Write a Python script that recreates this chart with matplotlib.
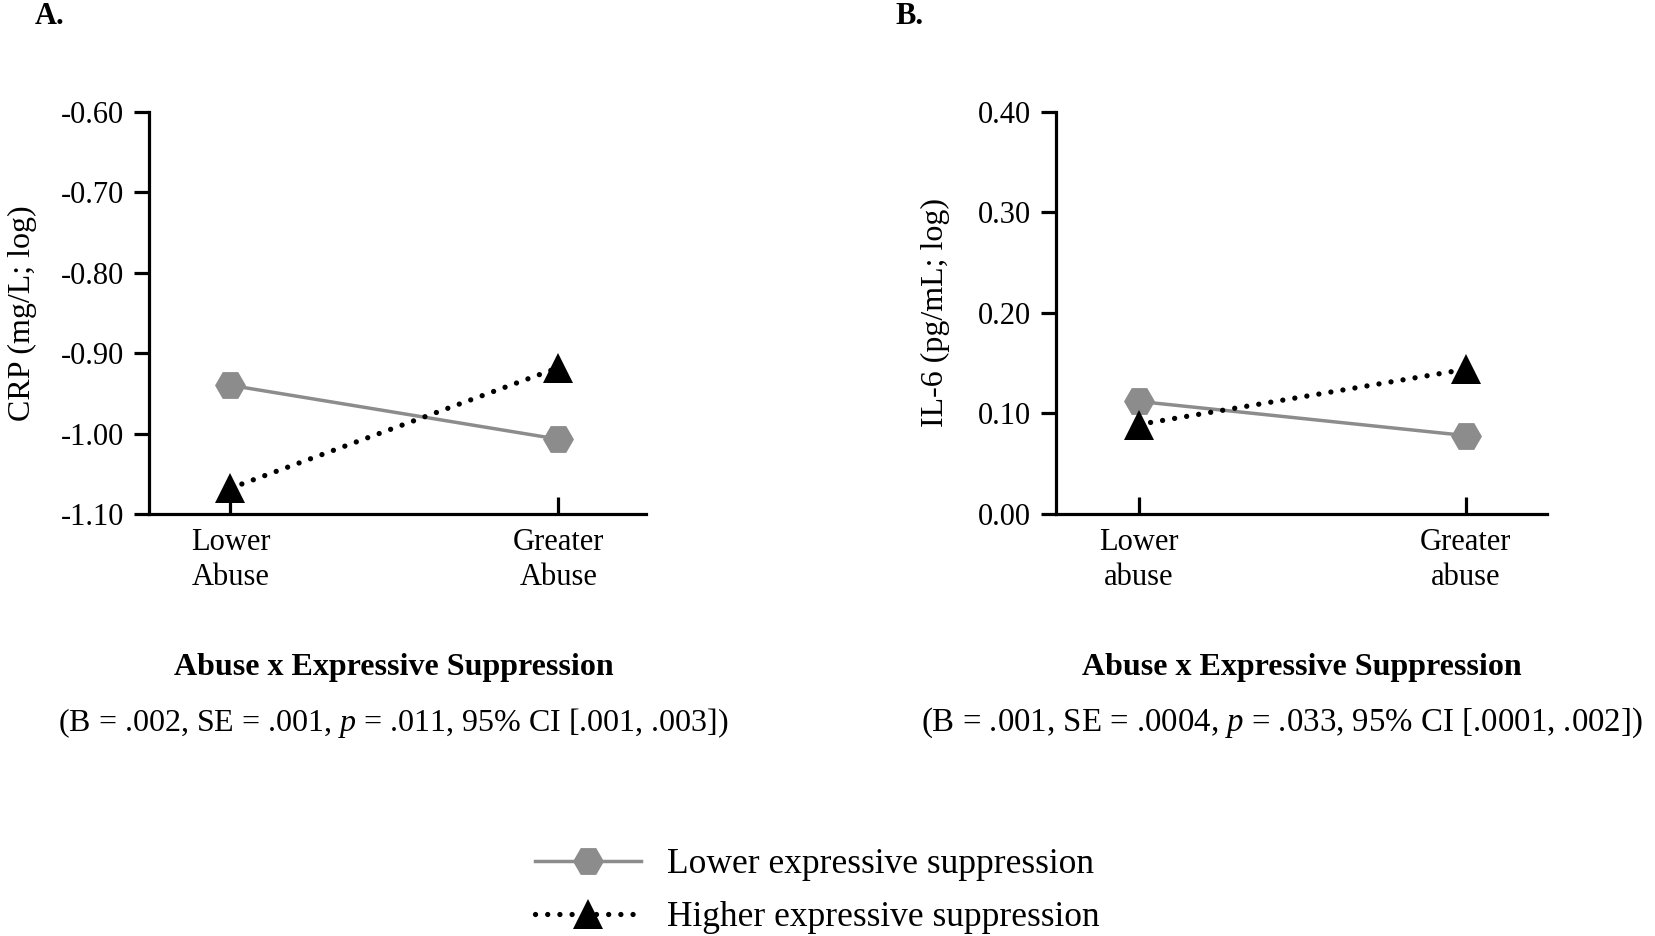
import matplotlib
matplotlib.use('Agg')
from matplotlib import pyplot as plt

plt.rcParams['font.family'] = ['Liberation Serif', 'DejaVu Serif']
plt.rcParams['mathtext.fontset'] = 'custom'
plt.rcParams['mathtext.rm'] = 'Liberation Serif'
plt.rcParams['mathtext.it'] = 'Liberation Serif:italic'

# data
categories_a = ['Lower\nAbuse', 'Greater\nAbuse']
categories_b = ['Lower\nabuse', 'Greater\nabuse']
crp_lower_es = [-0.940, -1.007]
crp_higher_es = [-1.068, -0.918]
il6_lower_es = [0.112, 0.078]
il6_higher_es = [0.089, 0.144]
crp_ticks = [-1.10, -1.00, -0.90, -0.80, -0.70, -0.60]
il6_ticks = [0.00, 0.10, 0.20, 0.30, 0.40]
series_labels = ['Lower expressive suppression', 'Higher expressive suppression']
stats_a = '(B = .002, SE = .001, $p$ = .011, 95% CI [.001, .003])'
stats_b = '(B = .001, SE = .0004, $p$ = .033, 95% CI [.0001, .002])'

GRAY = '#8c8c8c'
TICK_FS = 22
FS = 23


def _do_panel(ax, cats, low, high, yticks, ylabel, label_x, xlim):
    x = list(range(len(cats)))
    l1, = ax.plot(x, low, color=GRAY, linewidth=2.5, marker='H', markersize=22.3,
                  markeredgewidth=0, clip_on=False, zorder=3, label=series_labels[0])
    l2, = ax.plot(x, high, color='black', linewidth=3.8, linestyle=(0, (0.01, 2.3)),
                  dash_capstyle='round', marker='^', markersize=22.3, markeredgewidth=0,
                  clip_on=False, zorder=4, label=series_labels[1])
    ax.set_xlim(xlim)
    ax.set_ylim(yticks[0], yticks[-1])
    ax.set_yticks(yticks)
    ax.set_yticklabels([f'{t:.2f}' for t in yticks])
    ax.set_xticks(x)
    ax.set_xticklabels(cats, linespacing=1.3)
    for s in ['top', 'right']:
        ax.spines[s].set_visible(False)
    for s in ['left', 'bottom']:
        ax.spines[s].set_linewidth(2.3)
    ax.tick_params(axis='y', direction='out', length=11, width=2.3, pad=7, labelsize=TICK_FS)
    ax.tick_params(axis='x', direction='in', length=12, width=2.3, pad=10, labelsize=TICK_FS)
    ax.set_ylabel(ylabel, fontsize=FS)
    ax.yaxis.set_label_coords(label_x, 0.5)
    return l1, l2


fig = plt.figure(figsize=(16.56, 9.36), dpi=100)
ax_a = fig.add_axes([0.0900, 0.4509, 0.3001, 0.4295])
ax_b = fig.add_axes([0.6377, 0.4509, 0.2965, 0.4295])

handles = _do_panel(ax_a, categories_a, crp_lower_es, crp_higher_es, crp_ticks,
                    'CRP (mg/L; log)', -0.225, (-0.248, 1.267))
_do_panel(ax_b, categories_b, il6_lower_es, il6_higher_es, il6_ticks,
          'IL-6 (pg/mL; log)', -0.216, (-0.252, 1.248))

fig.text(35 / 1656, 1 - 17 / 936, 'A.', fontsize=22, fontweight='bold', va='center')
fig.text(895 / 1656, 1 - 17 / 936, 'B.', fontsize=22, fontweight='bold', va='center')

for tx, sx, sfs, stats in [(394, 393, FS, stats_a), (1302, 1282, 23.7, stats_b)]:
    fig.text(tx / 1656, 1 - 668 / 936, 'Abuse x Expressive Suppression', fontsize=FS,
             fontweight='bold', ha='center', va='center')
    fig.text(sx / 1656, 1 - 723 / 936, stats, fontsize=sfs, ha='center', va='center')

fig.legend(handles=list(handles), loc='upper left', bbox_to_anchor=(535 / 1656, 1 - 848 / 936),
           frameon=False, fontsize=25.5, handlelength=3.0, handletextpad=0.73,
           labelspacing=0.57, borderpad=0, borderaxespad=0)

fig.savefig('out.png', dpi=100)
